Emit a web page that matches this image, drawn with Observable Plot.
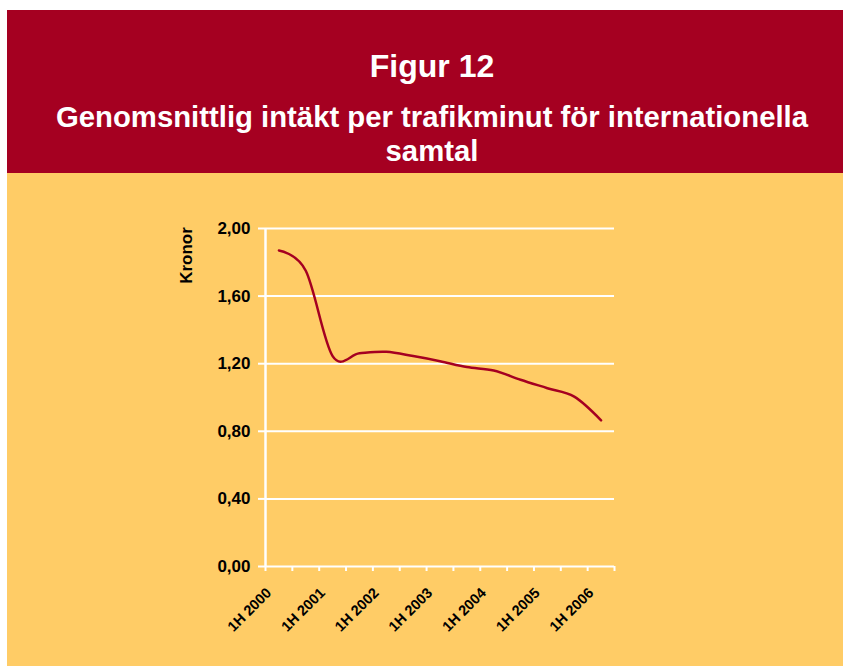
<!DOCTYPE html>
<html>
<head>
<meta charset="utf-8">
<script src="https://cdn.jsdelivr.net/npm/d3@7"></script>
<script src="https://cdn.jsdelivr.net/npm/@observablehq/plot@0.6"></script>
<style>
  html, body { margin: 0; padding: 0; background: #ffffff; }
  body { width: 843px; height: 666px; position: relative; overflow: hidden; font-family: "Liberation Sans", Arial, sans-serif; }
  #header { position: absolute; left: 7px; top: 10px; width: 836px; height: 163px; background: #A50021; color: #ffffff; }
  #title { position: absolute; left: 0; width: 850px; top: 40px; text-align: center; font-weight: bold; font-size: 32px; line-height: 32px; }
  #subtitle { position: absolute; left: 0; width: 850px; top: 90px; text-align: center; font-weight: bold; font-size: 29.3px; line-height: 34px; }
  #chart { position: absolute; left: 7px; top: 173px; width: 836px; height: 493px; background: #FFCC66; }
</style>
</head>
<body>
<div id="header">
  <div id="title">Figur 12</div>
  <div id="subtitle">Genomsnittlig intäkt per trafikminut för internationella<br>samtal</div>
</div>
<div id="chart"></div>
<script>
// Half-year periods (1H 2000 .. 1H 2006)
const periods = ["1H 2000","2H 2000","1H 2001","2H 2001","1H 2002","2H 2002","1H 2003","2H 2003","1H 2004","2H 2004","1H 2005","2H 2005","1H 2006"];
// Average revenue per traffic minute, kronor
const values = [1.87, 1.75, 1.245, 1.262, 1.27, 1.245, 1.215, 1.18, 1.16, 1.105, 1.055, 1.005, 0.865];
// Y axis ticks
const yTicks = [0, 0.4, 0.8, 1.2, 1.6, 2.0];
// X tick labels shown (every first half-year)
const xLabelIdx = [0, 2, 4, 6, 8, 10, 12];
const yLabel = "Kronor";

const data = periods.map((p, i) => ({i, period: p, value: values[i]}));
const boundaries = d3.range(periods.length + 1).map(k => k - 0.5);
const font = '"Liberation Sans", Arial, sans-serif';

const chart = Plot.plot({
  width: 836,
  height: 493,
  marginLeft: 258,
  marginRight: 229,
  marginTop: 55,
  marginBottom: 100,
  style: {background: "transparent", fontFamily: font, color: "black"},
  x: {domain: [-0.5, periods.length - 0.5], axis: null},
  y: {domain: [0, 2], axis: null},
  marks: [
    Plot.ruleY(yTicks, {stroke: "white", strokeWidth: 2}),
    Plot.ruleX([-0.5], {stroke: "white", strokeWidth: 2.5}),
    Plot.axisY({ticks: yTicks, tickSize: 7, tickPadding: 8, stroke: "white", strokeWidth: 2, fill: "black",
      fontWeight: "bold", fontSize: 17, tickFormat: d => d.toFixed(2).replace(".", ","), label: null}),
    Plot.axisX({ticks: boundaries, tickSize: 5, stroke: "white", strokeWidth: 2, fill: "none", label: null, tickFormat: () => ""}),
    Plot.axisX({ticks: xLabelIdx, tickSize: 0, tickPadding: 24, dx: -10, tickRotate: -45, fill: "black",
      fontWeight: "bold", fontSize: 14.5, tickFormat: i => periods[i], label: null}),
    Plot.text([yLabel], {frameAnchor: "top-left", dx: -79, dy: 27, rotate: -90, textAnchor: "middle", lineAnchor: "middle",
      fontWeight: "bold", fontSize: 17, fill: "black"}),
    Plot.line(data, {x: "i", y: "value", stroke: "#A50021", strokeWidth: 2.5, curve: "cardinal"})
  ]
});
document.getElementById("chart").appendChild(chart);
</script>
</body>
</html>
